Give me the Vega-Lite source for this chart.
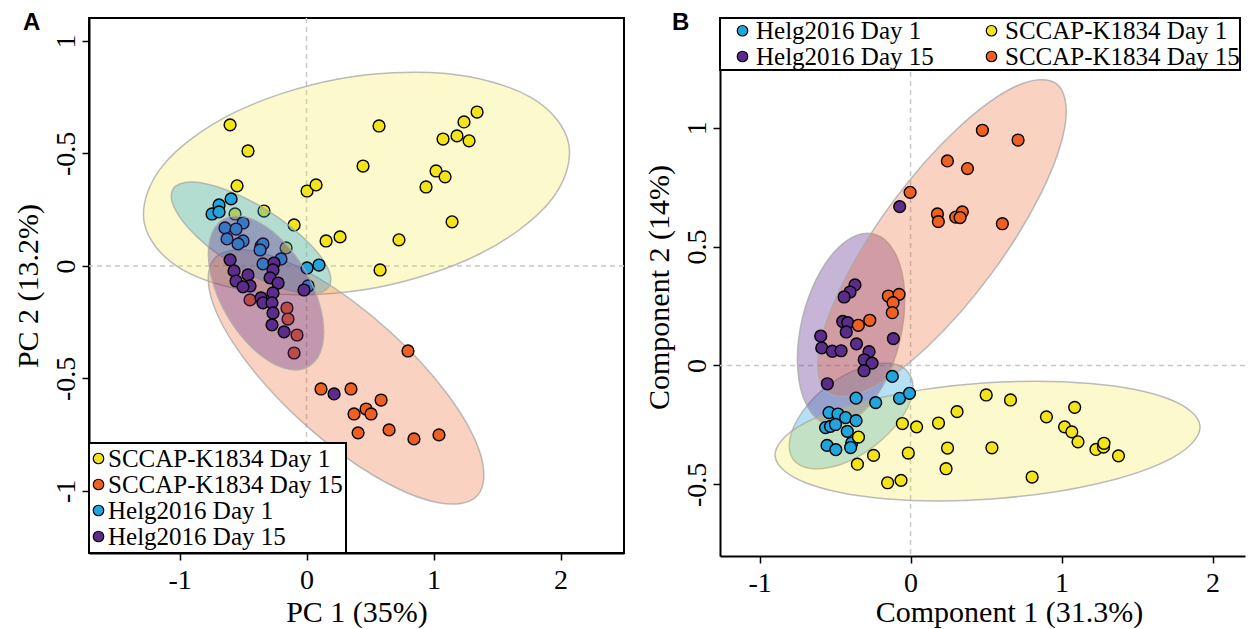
{
  "$schema": "https://vega.github.io/schema/vega-lite/v6.json",
  "background": "white",
  "padding": {"left": 12, "top": 10, "right": 0, "bottom": 0},
  "spacing": 18,
  "config": {
    "font": "Liberation Serif",
    "view": {"stroke": "black", "strokeWidth": 2},
    "axis": {"labelFont": "Liberation Serif", "titleFont": "Liberation Serif", "labelFontSize": 28, "titleFontSize": 30, "labelColor": "black", "titleColor": "black", "domainColor": "black", "tickColor": "black", "domainWidth": 2, "tickWidth": 1.5, "tickSize": 7, "grid": false, "titleFontWeight": "normal", "labelFlush": false, "labelOverlap": false, "format": "~g"},
    "axisX": {"labelPadding": 6, "titlePadding": 3},
    "axisY": {"labelAngle": -90, "labelAlign": "center", "labelBaseline": "bottom", "labelPadding": 2, "titlePadding": 9},
    "legend": {"labelFont": "Liberation Serif", "labelFontSize": 25, "labelColor": "black", "labelLimit": 0, "symbolStrokeColor": "black", "symbolStrokeWidth": 1.2, "strokeColor": "black", "strokeWidth": 2, "fillColor": "white", "padding": 3, "rowPadding": 0, "labelOffset": 4, "symbolSize": 110, "symbolType": "circle"}
  },
  "datasets": {
    "zero": [{"z": 0}],
    "ptsA": [
      {"g": "SCCAP-K1834 Day 1", "x": -0.602, "y": 0.627}, {"g": "SCCAP-K1834 Day 1", "x": -0.461, "y": 0.511}, {"g": "SCCAP-K1834 Day 1", "x": -0.547, "y": 0.356}, {"g": "SCCAP-K1834 Day 1", "x": -0.335, "y": 0.244}, {"g": "SCCAP-K1834 Day 1", "x": -0.098, "y": 0.182}, {"g": "SCCAP-K1834 Day 1", "x": 0.004, "y": 0.333}, {"g": "SCCAP-K1834 Day 1", "x": 0.075, "y": 0.36}, {"g": "SCCAP-K1834 Day 1", "x": -0.563, "y": 0.231}, {"g": "SCCAP-K1834 Day 1", "x": -0.161, "y": 0.08}, {"g": "SCCAP-K1834 Day 1", "x": 0.571, "y": 0.622}, {"g": "SCCAP-K1834 Day 1", "x": 0.445, "y": 0.444}, {"g": "SCCAP-K1834 Day 1", "x": 0.154, "y": 0.111}, {"g": "SCCAP-K1834 Day 1", "x": 0.264, "y": 0.129}, {"g": "SCCAP-K1834 Day 1", "x": 0.579, "y": -0.018}, {"g": "SCCAP-K1834 Day 1", "x": 0.728, "y": 0.116}, {"g": "SCCAP-K1834 Day 1", "x": 0.941, "y": 0.351}, {"g": "SCCAP-K1834 Day 1", "x": 1.02, "y": 0.422}, {"g": "SCCAP-K1834 Day 1", "x": 1.091, "y": 0.396}, {"g": "SCCAP-K1834 Day 1", "x": 1.146, "y": 0.196}, {"g": "SCCAP-K1834 Day 1", "x": 1.075, "y": 0.564}, {"g": "SCCAP-K1834 Day 1", "x": 1.185, "y": 0.578}, {"g": "SCCAP-K1834 Day 1", "x": 1.28, "y": 0.556}, {"g": "SCCAP-K1834 Day 1", "x": 1.24, "y": 0.64}, {"g": "SCCAP-K1834 Day 1", "x": 1.343, "y": 0.684},
      {"g": "SCCAP-K1834 Day 15", "x": -0.445, "y": -0.151}, {"g": "SCCAP-K1834 Day 15", "x": -0.154, "y": -0.187}, {"g": "SCCAP-K1834 Day 15", "x": -0.146, "y": -0.236}, {"g": "SCCAP-K1834 Day 15", "x": -0.075, "y": -0.307}, {"g": "SCCAP-K1834 Day 15", "x": -0.098, "y": -0.387}, {"g": "SCCAP-K1834 Day 15", "x": 0.114, "y": -0.547}, {"g": "SCCAP-K1834 Day 15", "x": 0.35, "y": -0.547}, {"g": "SCCAP-K1834 Day 15", "x": 0.374, "y": -0.658}, {"g": "SCCAP-K1834 Day 15", "x": 0.469, "y": -0.636}, {"g": "SCCAP-K1834 Day 15", "x": 0.508, "y": -0.658}, {"g": "SCCAP-K1834 Day 15", "x": 0.587, "y": -0.596}, {"g": "SCCAP-K1834 Day 15", "x": 0.406, "y": -0.742}, {"g": "SCCAP-K1834 Day 15", "x": 0.65, "y": -0.729}, {"g": "SCCAP-K1834 Day 15", "x": 0.846, "y": -0.769}, {"g": "SCCAP-K1834 Day 15", "x": 1.043, "y": -0.751}, {"g": "SCCAP-K1834 Day 15", "x": 0.799, "y": -0.378},
      {"g": "Helg2016 Day 1", "x": -0.594, "y": 0.298}, {"g": "Helg2016 Day 1", "x": -0.689, "y": 0.271}, {"g": "Helg2016 Day 1", "x": -0.744, "y": 0.231}, {"g": "Helg2016 Day 1", "x": -0.689, "y": 0.24}, {"g": "Helg2016 Day 1", "x": -0.5, "y": 0.191}, {"g": "Helg2016 Day 1", "x": -0.642, "y": 0.169}, {"g": "Helg2016 Day 1", "x": -0.555, "y": 0.164}, {"g": "Helg2016 Day 1", "x": -0.626, "y": 0.12}, {"g": "Helg2016 Day 1", "x": -0.5, "y": 0.111}, {"g": "Helg2016 Day 1", "x": -0.539, "y": 0.098}, {"g": "Helg2016 Day 1", "x": -0.358, "y": 0.089}, {"g": "Helg2016 Day 1", "x": -0.343, "y": 0.098}, {"g": "Helg2016 Day 1", "x": -0.366, "y": 0.071}, {"g": "Helg2016 Day 1", "x": -0.343, "y": 0.009}, {"g": "Helg2016 Day 1", "x": -0.201, "y": 0.031}, {"g": "Helg2016 Day 1", "x": 0.004, "y": -0.009}, {"g": "Helg2016 Day 1", "x": 0.098, "y": 0.004}, {"g": "Helg2016 Day 1", "x": 0.012, "y": -0.089},
      {"g": "Helg2016 Day 15", "x": -0.602, "y": 0.027}, {"g": "Helg2016 Day 15", "x": -0.571, "y": -0.022}, {"g": "Helg2016 Day 15", "x": -0.555, "y": -0.067}, {"g": "Helg2016 Day 15", "x": -0.461, "y": -0.04}, {"g": "Helg2016 Day 15", "x": -0.445, "y": -0.089}, {"g": "Helg2016 Day 15", "x": -0.5, "y": -0.093}, {"g": "Helg2016 Day 15", "x": -0.256, "y": 0.013}, {"g": "Helg2016 Day 15", "x": -0.264, "y": -0.018}, {"g": "Helg2016 Day 15", "x": -0.287, "y": -0.053}, {"g": "Helg2016 Day 15", "x": -0.224, "y": -0.076}, {"g": "Helg2016 Day 15", "x": -0.264, "y": -0.12}, {"g": "Helg2016 Day 15", "x": -0.358, "y": -0.142}, {"g": "Helg2016 Day 15", "x": -0.343, "y": -0.164}, {"g": "Helg2016 Day 15", "x": -0.272, "y": -0.164}, {"g": "Helg2016 Day 15", "x": -0.264, "y": -0.209}, {"g": "Helg2016 Day 15", "x": -0.272, "y": -0.262}, {"g": "Helg2016 Day 15", "x": -0.177, "y": -0.293}, {"g": "Helg2016 Day 15", "x": -0.02, "y": -0.107}, {"g": "Helg2016 Day 15", "x": 0.217, "y": -0.569}
    ],
    "ellA": [
      {"g": "SCCAP-K1834 Day 1", "i": 0, "x": 2.065, "y": 0.541}, {"g": "SCCAP-K1834 Day 1", "i": 1, "x": 1.917, "y": 0.286}, {"g": "SCCAP-K1834 Day 1", "i": 2, "x": 1.362, "y": 0.053}, {"g": "SCCAP-K1834 Day 1", "i": 3, "x": 0.546, "y": -0.097}, {"g": "SCCAP-K1834 Day 1", "i": 4, "x": -0.311, "y": -0.122}, {"g": "SCCAP-K1834 Day 1", "i": 5, "x": -0.978, "y": -0.016}, {"g": "SCCAP-K1834 Day 1", "i": 6, "x": -1.278, "y": 0.192}, {"g": "SCCAP-K1834 Day 1", "i": 7, "x": -1.13, "y": 0.447}, {"g": "SCCAP-K1834 Day 1", "i": 8, "x": -0.574, "y": 0.68}, {"g": "SCCAP-K1834 Day 1", "i": 9, "x": 0.241, "y": 0.83}, {"g": "SCCAP-K1834 Day 1", "i": 10, "x": 1.098, "y": 0.855}, {"g": "SCCAP-K1834 Day 1", "i": 11, "x": 1.766, "y": 0.749},
      {"g": "SCCAP-K1834 Day 15", "i": 0, "x": 1.346, "y": -1.02}, {"g": "SCCAP-K1834 Day 15", "i": 1, "x": 1.042, "y": -1.053}, {"g": "SCCAP-K1834 Day 15", "i": 2, "x": 0.542, "y": -0.936}, {"g": "SCCAP-K1834 Day 15", "i": 3, "x": -0.02, "y": -0.701}, {"g": "SCCAP-K1834 Day 15", "i": 4, "x": -0.494, "y": -0.41}, {"g": "SCCAP-K1834 Day 15", "i": 5, "x": -0.751, "y": -0.142}, {"g": "SCCAP-K1834 Day 15", "i": 6, "x": -0.724, "y": 0.033}, {"g": "SCCAP-K1834 Day 15", "i": 7, "x": -0.42, "y": 0.066}, {"g": "SCCAP-K1834 Day 15", "i": 8, "x": 0.081, "y": -0.05}, {"g": "SCCAP-K1834 Day 15", "i": 9, "x": 0.643, "y": -0.285}, {"g": "SCCAP-K1834 Day 15", "i": 10, "x": 1.117, "y": -0.576}, {"g": "SCCAP-K1834 Day 15", "i": 11, "x": 1.374, "y": -0.845},
      {"g": "Helg2016 Day 1", "i": 0, "x": 0.177, "y": -0.092}, {"g": "Helg2016 Day 1", "i": 1, "x": 0.028, "y": -0.124}, {"g": "Helg2016 Day 1", "i": 2, "x": -0.246, "y": -0.088}, {"g": "Helg2016 Day 1", "i": 3, "x": -0.571, "y": 0.004}, {"g": "Helg2016 Day 1", "i": 4, "x": -0.86, "y": 0.128}, {"g": "Helg2016 Day 1", "i": 5, "x": -1.035, "y": 0.252}, {"g": "Helg2016 Day 1", "i": 6, "x": -1.051, "y": 0.341}, {"g": "Helg2016 Day 1", "i": 7, "x": -0.902, "y": 0.373}, {"g": "Helg2016 Day 1", "i": 8, "x": -0.628, "y": 0.337}, {"g": "Helg2016 Day 1", "i": 9, "x": -0.303, "y": 0.245}, {"g": "Helg2016 Day 1", "i": 10, "x": -0.014, "y": 0.12}, {"g": "Helg2016 Day 1", "i": 11, "x": 0.161, "y": -0.003},
      {"g": "Helg2016 Day 15", "i": 0, "x": 0.016, "y": -0.447}, {"g": "Helg2016 Day 15", "i": 1, "x": -0.183, "y": -0.453}, {"g": "Helg2016 Day 15", "i": 2, "x": -0.417, "y": -0.37}, {"g": "Helg2016 Day 15", "i": 3, "x": -0.626, "y": -0.22}, {"g": "Helg2016 Day 15", "i": 4, "x": -0.752, "y": -0.043}, {"g": "Helg2016 Day 15", "i": 5, "x": -0.762, "y": 0.113}, {"g": "Helg2016 Day 15", "i": 6, "x": -0.654, "y": 0.207}, {"g": "Helg2016 Day 15", "i": 7, "x": -0.455, "y": 0.213}, {"g": "Helg2016 Day 15", "i": 8, "x": -0.22, "y": 0.13}, {"g": "Helg2016 Day 15", "i": 9, "x": -0.012, "y": -0.02}, {"g": "Helg2016 Day 15", "i": 10, "x": 0.114, "y": -0.197}, {"g": "Helg2016 Day 15", "i": 11, "x": 0.124, "y": -0.353}
    ],
    "ptsB": [
      {"g": "Helg2016 Day 1", "x": -0.121, "y": -0.046}, {"g": "Helg2016 Day 1", "x": -0.361, "y": -0.137}, {"g": "Helg2016 Day 1", "x": -0.231, "y": -0.156}, {"g": "Helg2016 Day 1", "x": -0.073, "y": -0.138}, {"g": "Helg2016 Day 1", "x": -0.007, "y": -0.117}, {"g": "Helg2016 Day 1", "x": -0.54, "y": -0.198}, {"g": "Helg2016 Day 1", "x": -0.481, "y": -0.204}, {"g": "Helg2016 Day 1", "x": -0.43, "y": -0.219}, {"g": "Helg2016 Day 1", "x": -0.361, "y": -0.232}, {"g": "Helg2016 Day 1", "x": -0.563, "y": -0.261}, {"g": "Helg2016 Day 1", "x": -0.53, "y": -0.256}, {"g": "Helg2016 Day 1", "x": -0.497, "y": -0.248}, {"g": "Helg2016 Day 1", "x": -0.419, "y": -0.277}, {"g": "Helg2016 Day 1", "x": -0.39, "y": -0.326}, {"g": "Helg2016 Day 1", "x": -0.553, "y": -0.336}, {"g": "Helg2016 Day 1", "x": -0.495, "y": -0.354}, {"g": "Helg2016 Day 1", "x": -0.397, "y": -0.345},
      {"g": "Helg2016 Day 15", "x": -0.072, "y": 0.668}, {"g": "Helg2016 Day 15", "x": -0.368, "y": 0.339}, {"g": "Helg2016 Day 15", "x": -0.401, "y": 0.309}, {"g": "Helg2016 Day 15", "x": -0.44, "y": 0.288}, {"g": "Helg2016 Day 15", "x": -0.449, "y": 0.185}, {"g": "Helg2016 Day 15", "x": -0.416, "y": 0.18}, {"g": "Helg2016 Day 15", "x": -0.426, "y": 0.141}, {"g": "Helg2016 Day 15", "x": -0.595, "y": 0.124}, {"g": "Helg2016 Day 15", "x": -0.588, "y": 0.074}, {"g": "Helg2016 Day 15", "x": -0.518, "y": 0.06}, {"g": "Helg2016 Day 15", "x": -0.46, "y": 0.062}, {"g": "Helg2016 Day 15", "x": -0.358, "y": 0.091}, {"g": "Helg2016 Day 15", "x": -0.275, "y": 0.058}, {"g": "Helg2016 Day 15", "x": -0.307, "y": 0.024}, {"g": "Helg2016 Day 15", "x": -0.255, "y": 0.01}, {"g": "Helg2016 Day 15", "x": -0.308, "y": -0.022}, {"g": "Helg2016 Day 15", "x": -0.114, "y": 0.113}, {"g": "Helg2016 Day 15", "x": -0.551, "y": -0.077},
      {"g": "SCCAP-K1834 Day 1", "x": -0.345, "y": -0.301}, {"g": "SCCAP-K1834 Day 1", "x": -0.245, "y": -0.378}, {"g": "SCCAP-K1834 Day 1", "x": -0.352, "y": -0.415}, {"g": "SCCAP-K1834 Day 1", "x": -0.152, "y": -0.493}, {"g": "SCCAP-K1834 Day 1", "x": -0.063, "y": -0.483}, {"g": "SCCAP-K1834 Day 1", "x": -0.054, "y": -0.244}, {"g": "SCCAP-K1834 Day 1", "x": 0.04, "y": -0.258}, {"g": "SCCAP-K1834 Day 1", "x": -0.015, "y": -0.368}, {"g": "SCCAP-K1834 Day 1", "x": 0.185, "y": -0.242}, {"g": "SCCAP-K1834 Day 1", "x": 0.245, "y": -0.347}, {"g": "SCCAP-K1834 Day 1", "x": 0.235, "y": -0.434}, {"g": "SCCAP-K1834 Day 1", "x": 0.308, "y": -0.194}, {"g": "SCCAP-K1834 Day 1", "x": 0.501, "y": -0.124}, {"g": "SCCAP-K1834 Day 1", "x": 0.662, "y": -0.145}, {"g": "SCCAP-K1834 Day 1", "x": 0.539, "y": -0.346}, {"g": "SCCAP-K1834 Day 1", "x": 0.805, "y": -0.469}, {"g": "SCCAP-K1834 Day 1", "x": 0.9, "y": -0.216}, {"g": "SCCAP-K1834 Day 1", "x": 1.087, "y": -0.176}, {"g": "SCCAP-K1834 Day 1", "x": 1.02, "y": -0.258}, {"g": "SCCAP-K1834 Day 1", "x": 1.068, "y": -0.279}, {"g": "SCCAP-K1834 Day 1", "x": 1.109, "y": -0.321}, {"g": "SCCAP-K1834 Day 1", "x": 1.228, "y": -0.353}, {"g": "SCCAP-K1834 Day 1", "x": 1.278, "y": -0.343}, {"g": "SCCAP-K1834 Day 1", "x": 1.281, "y": -0.327}, {"g": "SCCAP-K1834 Day 1", "x": 1.377, "y": -0.38},
      {"g": "SCCAP-K1834 Day 15", "x": 0.476, "y": 0.989}, {"g": "SCCAP-K1834 Day 15", "x": 0.712, "y": 0.948}, {"g": "SCCAP-K1834 Day 15", "x": 0.244, "y": 0.86}, {"g": "SCCAP-K1834 Day 15", "x": 0.377, "y": 0.828}, {"g": "SCCAP-K1834 Day 15", "x": -0.003, "y": 0.728}, {"g": "SCCAP-K1834 Day 15", "x": 0.178, "y": 0.637}, {"g": "SCCAP-K1834 Day 15", "x": 0.184, "y": 0.605}, {"g": "SCCAP-K1834 Day 15", "x": 0.299, "y": 0.624}, {"g": "SCCAP-K1834 Day 15", "x": 0.343, "y": 0.646}, {"g": "SCCAP-K1834 Day 15", "x": 0.328, "y": 0.622}, {"g": "SCCAP-K1834 Day 15", "x": 0.608, "y": 0.596}, {"g": "SCCAP-K1834 Day 15", "x": -0.147, "y": 0.292}, {"g": "SCCAP-K1834 Day 15", "x": -0.076, "y": 0.299}, {"g": "SCCAP-K1834 Day 15", "x": -0.116, "y": 0.264}, {"g": "SCCAP-K1834 Day 15", "x": -0.121, "y": 0.222}, {"g": "SCCAP-K1834 Day 15", "x": -0.27, "y": 0.19}, {"g": "SCCAP-K1834 Day 15", "x": -0.346, "y": 0.169}
    ],
    "ellB": [
      {"g": "Helg2016 Day 1", "i": 0, "x": -0.013, "y": -0.031}, {"g": "Helg2016 Day 1", "i": 1, "x": 0.012, "y": -0.119}, {"g": "Helg2016 Day 1", "i": 2, "x": -0.073, "y": -0.232}, {"g": "Helg2016 Day 1", "i": 3, "x": -0.243, "y": -0.34}, {"g": "Helg2016 Day 1", "i": 4, "x": -0.454, "y": -0.414}, {"g": "Helg2016 Day 1", "i": 5, "x": -0.655, "y": -0.433}, {"g": "Helg2016 Day 1", "i": 6, "x": -0.778, "y": -0.394}, {"g": "Helg2016 Day 1", "i": 7, "x": -0.798, "y": -0.306}, {"g": "Helg2016 Day 1", "i": 8, "x": -0.714, "y": -0.193}, {"g": "Helg2016 Day 1", "i": 9, "x": -0.547, "y": -0.085}, {"g": "Helg2016 Day 1", "i": 10, "x": -0.334, "y": -0.011}, {"g": "Helg2016 Day 1", "i": 11, "x": -0.139, "y": 0.009},
      {"g": "Helg2016 Day 15", "i": 0, "x": -0.245, "y": 0.553}, {"g": "Helg2016 Day 15", "i": 1, "x": -0.104, "y": 0.474}, {"g": "Helg2016 Day 15", "i": 2, "x": -0.04, "y": 0.309}, {"g": "Helg2016 Day 15", "i": 3, "x": -0.072, "y": 0.103}, {"g": "Helg2016 Day 15", "i": 4, "x": -0.189, "y": -0.091}, {"g": "Helg2016 Day 15", "i": 5, "x": -0.362, "y": -0.22}, {"g": "Helg2016 Day 15", "i": 6, "x": -0.543, "y": -0.25}, {"g": "Helg2016 Day 15", "i": 7, "x": -0.684, "y": -0.172}, {"g": "Helg2016 Day 15", "i": 8, "x": -0.748, "y": -0.007}, {"g": "Helg2016 Day 15", "i": 9, "x": -0.716, "y": 0.2}, {"g": "Helg2016 Day 15", "i": 10, "x": -0.598, "y": 0.394}, {"g": "Helg2016 Day 15", "i": 11, "x": -0.426, "y": 0.523},
      {"g": "SCCAP-K1834 Day 1", "i": 0, "x": 1.917, "y": -0.255}, {"g": "SCCAP-K1834 Day 1", "i": 1, "x": 1.742, "y": -0.385}, {"g": "SCCAP-K1834 Day 1", "i": 2, "x": 1.237, "y": -0.497}, {"g": "SCCAP-K1834 Day 1", "i": 3, "x": 0.537, "y": -0.561}, {"g": "SCCAP-K1834 Day 1", "i": 4, "x": -0.17, "y": -0.56}, {"g": "SCCAP-K1834 Day 1", "i": 5, "x": -0.695, "y": -0.493}, {"g": "SCCAP-K1834 Day 1", "i": 6, "x": -0.897, "y": -0.38}, {"g": "SCCAP-K1834 Day 1", "i": 7, "x": -0.722, "y": -0.25}, {"g": "SCCAP-K1834 Day 1", "i": 8, "x": -0.217, "y": -0.138}, {"g": "SCCAP-K1834 Day 1", "i": 9, "x": 0.483, "y": -0.074}, {"g": "SCCAP-K1834 Day 1", "i": 10, "x": 1.191, "y": -0.076}, {"g": "SCCAP-K1834 Day 1", "i": 11, "x": 1.715, "y": -0.142},
      {"g": "SCCAP-K1834 Day 15", "i": 0, "x": 0.965, "y": 1.185}, {"g": "SCCAP-K1834 Day 15", "i": 1, "x": 1.026, "y": 1.022}, {"g": "SCCAP-K1834 Day 15", "i": 2, "x": 0.868, "y": 0.729}, {"g": "SCCAP-K1834 Day 15", "i": 3, "x": 0.533, "y": 0.384}, {"g": "SCCAP-K1834 Day 15", "i": 4, "x": 0.111, "y": 0.079}, {"g": "SCCAP-K1834 Day 15", "i": 5, "x": -0.284, "y": -0.103}, {"g": "SCCAP-K1834 Day 15", "i": 6, "x": -0.548, "y": -0.113}, {"g": "SCCAP-K1834 Day 15", "i": 7, "x": -0.609, "y": 0.05}, {"g": "SCCAP-K1834 Day 15", "i": 8, "x": -0.45, "y": 0.344}, {"g": "SCCAP-K1834 Day 15", "i": 9, "x": -0.116, "y": 0.689}, {"g": "SCCAP-K1834 Day 15", "i": 10, "x": 0.306, "y": 0.993}, {"g": "SCCAP-K1834 Day 15", "i": 11, "x": 0.701, "y": 1.175}
    ]
  },
  "resolve": {"scale": {"color": "independent"}, "legend": {"color": "independent"}},
  "hconcat": [
    {
      "width": 535,
      "height": 535,
      "title": {"text": "A", "anchor": "start", "frame": "group", "dx": -66, "offset": -18, "font": "Liberation Sans", "fontSize": 24, "fontWeight": "bold", "color": "black"},
      "layer": [
        {"data": {"name": "zero"}, "mark": {"type": "rule", "stroke": "#c8c8c8", "strokeDash": [5, 4], "strokeWidth": 1.5},
         "encoding": {"x": {"field": "z", "type": "quantitative", "scale": {"domain": [-1.713, 2.5], "nice": false, "zero": false}, "axis": {"values": [-1, 0, 1, 2], "title": "PC 1 (35%)", "labelExpr": "replace(datum.label, '\u2212', '-')"}}}},
        {"data": {"name": "zero"}, "mark": {"type": "rule", "stroke": "#c8c8c8", "strokeDash": [5, 4], "strokeWidth": 1.5},
         "encoding": {"y": {"field": "z", "type": "quantitative", "scale": {"domain": [-1.276, 1.102], "nice": false, "zero": false}, "axis": {"values": [-1, -0.5, 0, 0.5, 1], "title": "PC 2 (13.2%)", "labelExpr": "datum.value == 0.5 ? '-0.5' : replace(datum.label, '\u2212', '-')"}}}},
        {"data": {"name": "ellA"}, "transform": [{"filter": "datum.g == 'SCCAP-K1834 Day 1'"}],
         "mark": {"type": "line", "interpolate": "cardinal-closed", "fill": "#f3e31b", "fillOpacity": 0.22, "stroke": "#aaaaaa", "strokeWidth": 1.5, "strokeOpacity": 0.8},
         "encoding": {"x": {"field": "x", "type": "quantitative", "scale": {"domain": [-1.713, 2.5], "nice": false, "zero": false}}, "y": {"field": "y", "type": "quantitative", "scale": {"domain": [-1.276, 1.102], "nice": false, "zero": false}}, "order": {"field": "i", "type": "quantitative"}}},
        {"data": {"name": "ptsA"}, "transform": [{"filter": "datum.g == 'SCCAP-K1834 Day 1'"}],
         "mark": {"type": "point", "filled": true, "size": 140, "stroke": "black", "strokeWidth": 1.4, "opacity": 1},
         "encoding": {"x": {"field": "x", "type": "quantitative", "scale": {"domain": [-1.713, 2.5], "nice": false, "zero": false}}, "y": {"field": "y", "type": "quantitative", "scale": {"domain": [-1.276, 1.102], "nice": false, "zero": false}},
           "color": {"field": "g", "type": "nominal", "scale": {"domain": ["SCCAP-K1834 Day 1", "SCCAP-K1834 Day 15", "Helg2016 Day 1", "Helg2016 Day 15"], "range": ["#f3e31b", "#ee5f22", "#22a4dd", "#5c2c8c"]}, "legend": {"title": null, "orient": "bottom-left", "offset": 0, "symbolOffset": -6, "labelOffset": -3}}}},
        {"data": {"name": "ellA"}, "transform": [{"filter": "datum.g == 'SCCAP-K1834 Day 15'"}],
         "mark": {"type": "line", "interpolate": "cardinal-closed", "fill": "#ee5f22", "fillOpacity": 0.28, "stroke": "#aaaaaa", "strokeWidth": 1.5, "strokeOpacity": 0.8},
         "encoding": {"x": {"field": "x", "type": "quantitative", "scale": {"domain": [-1.713, 2.5], "nice": false, "zero": false}}, "y": {"field": "y", "type": "quantitative", "scale": {"domain": [-1.276, 1.102], "nice": false, "zero": false}}, "order": {"field": "i", "type": "quantitative"}}},
        {"data": {"name": "ptsA"}, "transform": [{"filter": "datum.g == 'SCCAP-K1834 Day 15'"}],
         "mark": {"type": "point", "filled": true, "size": 140, "stroke": "black", "strokeWidth": 1.4, "opacity": 1},
         "encoding": {"x": {"field": "x", "type": "quantitative", "scale": {"domain": [-1.713, 2.5], "nice": false, "zero": false}}, "y": {"field": "y", "type": "quantitative", "scale": {"domain": [-1.276, 1.102], "nice": false, "zero": false}},
           "color": {"field": "g", "type": "nominal", "scale": {"domain": ["SCCAP-K1834 Day 1", "SCCAP-K1834 Day 15", "Helg2016 Day 1", "Helg2016 Day 15"], "range": ["#f3e31b", "#ee5f22", "#22a4dd", "#5c2c8c"]}, "legend": {"title": null, "orient": "bottom-left", "offset": 0, "symbolOffset": -6, "labelOffset": -3}}}},
        {"data": {"name": "ellA"}, "transform": [{"filter": "datum.g == 'Helg2016 Day 1'"}],
         "mark": {"type": "line", "interpolate": "cardinal-closed", "fill": "#22a4dd", "fillOpacity": 0.33, "stroke": "#aaaaaa", "strokeWidth": 1.5, "strokeOpacity": 0.8},
         "encoding": {"x": {"field": "x", "type": "quantitative", "scale": {"domain": [-1.713, 2.5], "nice": false, "zero": false}}, "y": {"field": "y", "type": "quantitative", "scale": {"domain": [-1.276, 1.102], "nice": false, "zero": false}}, "order": {"field": "i", "type": "quantitative"}}},
        {"data": {"name": "ptsA"}, "transform": [{"filter": "datum.g == 'Helg2016 Day 1'"}],
         "mark": {"type": "point", "filled": true, "size": 140, "stroke": "black", "strokeWidth": 1.4, "opacity": 1},
         "encoding": {"x": {"field": "x", "type": "quantitative", "scale": {"domain": [-1.713, 2.5], "nice": false, "zero": false}}, "y": {"field": "y", "type": "quantitative", "scale": {"domain": [-1.276, 1.102], "nice": false, "zero": false}},
           "color": {"field": "g", "type": "nominal", "scale": {"domain": ["SCCAP-K1834 Day 1", "SCCAP-K1834 Day 15", "Helg2016 Day 1", "Helg2016 Day 15"], "range": ["#f3e31b", "#ee5f22", "#22a4dd", "#5c2c8c"]}, "legend": {"title": null, "orient": "bottom-left", "offset": 0, "symbolOffset": -6, "labelOffset": -3}}}},
        {"data": {"name": "ellA"}, "transform": [{"filter": "datum.g == 'Helg2016 Day 15'"}],
         "mark": {"type": "line", "interpolate": "cardinal-closed", "fill": "#5c2c8c", "fillOpacity": 0.35, "stroke": "#aaaaaa", "strokeWidth": 1.5, "strokeOpacity": 0.8},
         "encoding": {"x": {"field": "x", "type": "quantitative", "scale": {"domain": [-1.713, 2.5], "nice": false, "zero": false}}, "y": {"field": "y", "type": "quantitative", "scale": {"domain": [-1.276, 1.102], "nice": false, "zero": false}}, "order": {"field": "i", "type": "quantitative"}}},
        {"data": {"name": "ptsA"}, "transform": [{"filter": "datum.g == 'Helg2016 Day 15'"}],
         "mark": {"type": "point", "filled": true, "size": 140, "stroke": "black", "strokeWidth": 1.4, "opacity": 1},
         "encoding": {"x": {"field": "x", "type": "quantitative", "scale": {"domain": [-1.713, 2.5], "nice": false, "zero": false}}, "y": {"field": "y", "type": "quantitative", "scale": {"domain": [-1.276, 1.102], "nice": false, "zero": false}},
           "color": {"field": "g", "type": "nominal", "scale": {"domain": ["SCCAP-K1834 Day 1", "SCCAP-K1834 Day 15", "Helg2016 Day 1", "Helg2016 Day 15"], "range": ["#f3e31b", "#ee5f22", "#22a4dd", "#5c2c8c"]}, "legend": {"title": null, "orient": "bottom-left", "offset": 0, "symbolOffset": -6, "labelOffset": -3}}}}
      ]
    },
    {
      "width": 525,
      "height": 538,
      "view": {"stroke": null},
      "title": {"text": "B", "anchor": "start", "frame": "group", "dx": -48, "offset": -18, "font": "Liberation Sans", "fontSize": 24, "fontWeight": "bold", "color": "black"},
      "layer": [
        {"data": {"name": "zero"}, "mark": {"type": "rule", "stroke": "#c8c8c8", "strokeDash": [5, 4], "strokeWidth": 1.5},
         "encoding": {"x": {"field": "z", "type": "quantitative", "scale": {"domain": [-1.262, 2.215], "nice": false, "zero": false}, "axis": {"values": [-1, 0, 1, 2], "title": "Component 1 (31.3%)", "titleX": 289, "titlePadding": 0, "labelExpr": "replace(datum.label, '\u2212', '-')"}}}},
        {"data": {"name": "zero"}, "mark": {"type": "rule", "stroke": "#c8c8c8", "strokeDash": [5, 4], "strokeWidth": 1.5},
         "encoding": {"y": {"field": "z", "type": "quantitative", "scale": {"domain": [-0.801, 1.461], "nice": false, "zero": false}, "axis": {"values": [-0.5, 0, 0.5, 1], "title": "Component 2 (14%)", "labelExpr": "replace(datum.label, '\u2212', '-')"}}}},
        {"data": {"name": "ellB"}, "transform": [{"filter": "datum.g == 'Helg2016 Day 1'"}],
         "mark": {"type": "line", "interpolate": "cardinal-closed", "fill": "#22a4dd", "fillOpacity": 0.33, "stroke": "#aaaaaa", "strokeWidth": 1.5, "strokeOpacity": 0.8},
         "encoding": {"x": {"field": "x", "type": "quantitative", "scale": {"domain": [-1.262, 2.215], "nice": false, "zero": false}}, "y": {"field": "y", "type": "quantitative", "scale": {"domain": [-0.801, 1.461], "nice": false, "zero": false}}, "order": {"field": "i", "type": "quantitative"}}},
        {"data": {"name": "ellB"}, "transform": [{"filter": "datum.g == 'Helg2016 Day 15'"}],
         "mark": {"type": "line", "interpolate": "cardinal-closed", "fill": "#5c2c8c", "fillOpacity": 0.35, "stroke": "#aaaaaa", "strokeWidth": 1.5, "strokeOpacity": 0.8},
         "encoding": {"x": {"field": "x", "type": "quantitative", "scale": {"domain": [-1.262, 2.215], "nice": false, "zero": false}}, "y": {"field": "y", "type": "quantitative", "scale": {"domain": [-0.801, 1.461], "nice": false, "zero": false}}, "order": {"field": "i", "type": "quantitative"}}},
        {"data": {"name": "ellB"}, "transform": [{"filter": "datum.g == 'SCCAP-K1834 Day 1'"}],
         "mark": {"type": "line", "interpolate": "cardinal-closed", "fill": "#f3e31b", "fillOpacity": 0.22, "stroke": "#aaaaaa", "strokeWidth": 1.5, "strokeOpacity": 0.8},
         "encoding": {"x": {"field": "x", "type": "quantitative", "scale": {"domain": [-1.262, 2.215], "nice": false, "zero": false}}, "y": {"field": "y", "type": "quantitative", "scale": {"domain": [-0.801, 1.461], "nice": false, "zero": false}}, "order": {"field": "i", "type": "quantitative"}}},
        {"data": {"name": "ellB"}, "transform": [{"filter": "datum.g == 'SCCAP-K1834 Day 15'"}],
         "mark": {"type": "line", "interpolate": "cardinal-closed", "fill": "#ee5f22", "fillOpacity": 0.28, "stroke": "#aaaaaa", "strokeWidth": 1.5, "strokeOpacity": 0.8},
         "encoding": {"x": {"field": "x", "type": "quantitative", "scale": {"domain": [-1.262, 2.215], "nice": false, "zero": false}}, "y": {"field": "y", "type": "quantitative", "scale": {"domain": [-0.801, 1.461], "nice": false, "zero": false}}, "order": {"field": "i", "type": "quantitative"}}},
        {"data": {"name": "ptsB"},
         "mark": {"type": "point", "filled": true, "size": 140, "stroke": "black", "strokeWidth": 1.4, "opacity": 1},
         "encoding": {"x": {"field": "x", "type": "quantitative", "scale": {"domain": [-1.262, 2.215], "nice": false, "zero": false}}, "y": {"field": "y", "type": "quantitative", "scale": {"domain": [-0.801, 1.461], "nice": false, "zero": false}},
           "color": {"field": "g", "type": "nominal", "scale": {"domain": ["Helg2016 Day 1", "SCCAP-K1834 Day 1", "Helg2016 Day 15", "SCCAP-K1834 Day 15"], "range": ["#22a4dd", "#f3e31b", "#5c2c8c", "#ee5f22"]}, "legend": {"title": null, "orient": "top-left", "direction": "horizontal", "columns": 2, "offset": 0, "padding": 0, "columnPadding": 35, "symbolOffset": 10, "rowPadding": -6, "labelOffset": 1, "labelExpr": "datum.label + ' '"}}}}
      ]
    }
  ]
}
